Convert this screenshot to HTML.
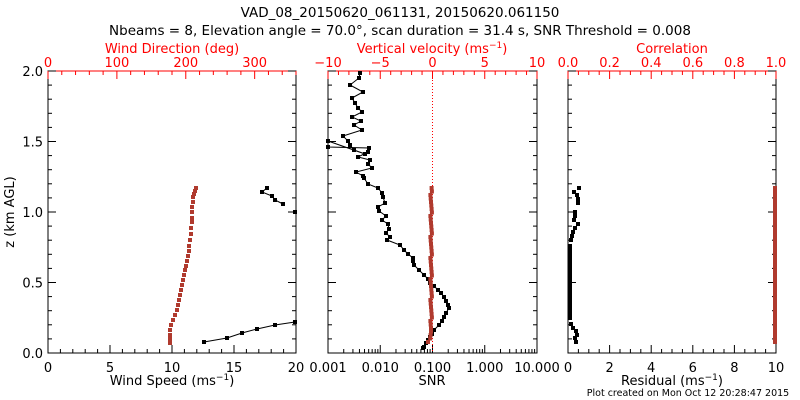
<!DOCTYPE html>
<html><head><meta charset="utf-8"><style>
html,body{margin:0;padding:0;background:#fff;}
svg{display:block;font-family:"DejaVu Sans","Liberation Sans",sans-serif;}
</style></head><body>
<svg id="s" width="800" height="400" viewBox="0 0 800 400" xmlns="http://www.w3.org/2000/svg">
<text x="400" y="17" font-size="13.5" text-anchor="middle">VAD_08_20150620_061131, 20150620.061150</text>
<text x="400" y="35" font-size="13.5" text-anchor="middle">Nbeams = 8, Elevation angle = 70.0°, scan duration = 31.4 s, SNR Threshold = 0.008</text>
<g font-size="13" fill="#f00" text-anchor="middle">
<text x="172" y="53">Wind Direction (deg)</text>
<text x="432" y="53">Vertical velocity (ms<tspan dy="-5" font-size="9">−1</tspan><tspan dy="5">)</tspan></text>
<text x="672" y="53">Correlation</text>
</g>
<g font-size="13" fill="#000" text-anchor="middle">
<text x="172" y="385">Wind Speed (ms<tspan dy="-5" font-size="9">−1</tspan><tspan dy="5">)</tspan></text>
<text x="432" y="385">SNR</text>
<text x="672" y="385">Residual (ms<tspan dy="-5" font-size="9">−1</tspan><tspan dy="5">)</tspan></text>
<text x="14" y="212" transform="rotate(-90 14 212)">z (km AGL)</text>
</g>
<text x="688" y="396" font-size="9.5" text-anchor="middle">Plot created on Mon Oct 12 20:28:47 2015</text>
<g id="g"></g>
</svg>
<script>
var g=document.getElementById('g'),NS="http://www.w3.org/2000/svg",h='';
var T=71,B=353;
function L(x1,y1,x2,y2,c,w,d){h+='<line x1="'+x1+'" y1="'+y1+'" x2="'+x2+'" y2="'+y2+'" stroke="'+c+'" stroke-width="'+(w||1)+'"'+(d?' stroke-dasharray="'+d+'"':'')+'/>';}
function Tx(x,y,s,c,a){h+='<text x="'+x+'" y="'+y+'" font-size="13" fill="'+c+'" text-anchor="'+(a||'middle')+'">'+s+'</text>';}
function frame(x0,x1){h+='<rect x="'+x0+'" y="'+T+'" width="'+(x1-x0)+'" height="'+(B-T)+'" fill="none" stroke="#000"/>';L(x0,T,x1,T,'#f00');}
var P=[[48,296],[328,537],[568,776]];
P.forEach(function(p){frame(p[0],p[1]);});
// y ticks panel1
for(var i=0;i<=20;i++){var y=B-i*(B-T)/20,len=(i%5==0)?8:4;L(48,y,48+len,y,'#000');L(296,y,296-len,y,'#000');}
['0.0','0.5','1.0','1.5','2.0'].forEach(function(s,i){Tx(43,B-i*(B-T)/4+5,s,'#000','end');});
// panel2 and 3 y ticks
[[328,537],[568,776]].forEach(function(p){for(var i=0;i<=20;i++){var y=B-i*(B-T)/20,len=(i%5==0)?8:4;L(p[0],y,p[0]+len,y,'#000');L(p[1],y,p[1]-len,y,'#000');}});
// panel1 bottom: 0..20
for(var i=0;i<=20;i++){var x=48+i*(248/20),len=(i%5==0)?8:4;L(x,B,x,B-len,'#000');}
[0,5,10,15,20].forEach(function(v,i){Tx(48+v*12.4,372,v,'#000');});
// panel1 top: direction 0..360
for(var v=0;v<=360;v+=20){var x=48+v*248/360,len=(v%100==0)?8:4;L(x,T,x,T+len,'#f00');}
[0,100,200,300].forEach(function(v){Tx(48+v*248/360,67,v,'#f00');});
// panel2 bottom log
var dx=(537-328)/4;
for(var d=0;d<4;d++){for(var k=1;k<=9;k++){var x=328+dx*(d+Math.log10(k));L(x,B,x,B-(k==1?8:4),'#000');}}
L(537,B,537,B-8,'#000');
['0.001','0.010','0.100','1.000','10.000'].forEach(function(s,i){Tx(328+i*dx,372,s,'#000');});
// panel2 top -10..10
for(var v=-10;v<=10;v++){var x=328+(v+10)*(209/20),len=(v%5==0)?8:4;L(x,T,x,T+len,'#f00');}
[['−10',-10],['−5',-5],['0',0],['5',5],['10',10]].forEach(function(a){Tx(328+(a[1]+10)*209/20,67,a[0],'#f00');});
L(432.5,T,432.5,B,'#f00',1,'1,2');
// panel3 bottom 0..10
for(var i=0;i<=20;i++){var x=568+i*208/20,len=(i%4==0)?8:4;L(x,B,x,B-len,'#000');}
[0,2,4,6,8,10].forEach(function(v){Tx(568+v*20.8,372,v,'#000');});
for(var i=0;i<=20;i++){var x=568+i*208/20,len=(i%4==0)?8:4;L(x,T,x,T+len,'#f00');}
['0.0','0.2','0.4','0.6','0.8','1.0'].forEach(function(s,i){Tx(568+i*41.6,67,s,'#f00');});
function series(pts,c,line){var s=pts.map(function(p){return p[0]+','+p[1];}).join(' ');
 if(line)h+='<polyline points="'+s+'" fill="none" stroke="'+c+'" stroke-width="1"/>';
 pts.forEach(function(p){h+='<rect x="'+(p[0]-2)+'" y="'+(p[1]-2)+'" width="4" height="4" fill="'+c+'"/>';});}
var BR='#b03a2e';
// panel1 wind speed
series([[204,342],[227,338],[242,333],[257,329],[275,325],[295,322]],'#000',true);
L(295,322,296,321,'#000');
series([[267,188],[262,192],[272,196],[275,200],[283,204]],'#000',true);
series([[295,212]],'#000',false);
// panel1 direction
var dir=[[196,188],[195,191],[194,194],[193,197],[193,202],[192,207],[192,212],[192,218],[192,222],[191,228],[191,234],[190,240],[189,246],[189,251],[188,256],[187,261],[186,266],[185,270],[184,275],[183,280],[182,285],[181,290],[180,295],[179,300],[178,305],[177,310],[175,315],[173,320],[171,325],[170,330],[170,335],[170,339],[170,343]];
series(dir,BR,false);
// panel2 SNR
var snr=[[360,73],[359,78],[350,85],[363,92],[352,98],[355,103],[358,108],[362,112],[352,117],[361,121],[354,125],[362,130],[343,136],[348,141],[350,145],[354,150],[365,154],[328,141],[328,147],[369,148],[368,152],[358,157],[370,160],[368,164],[372,168],[356,172],[363,176],[364,178],[368,184],[378,188],[382,193],[383,197],[385,203],[378,207],[379,211],[386,216],[382,220],[388,224],[389,229],[386,233],[390,237],[387,240],[400,245],[404,250],[408,254],[413,258],[413,261],[414,265],[419,270],[424,275],[428,279],[430,283],[434,286],[438,290],[441,293],[444,297],[446,301],[448,305],[449,308],[446,313],[444,317],[442,321],[439,325],[434,330],[432,334],[430,337],[428,340],[426,343],[424,347],[423,348]];
series(snr,'#000',true);
var vv=[];for(var y=188;y<=345;y+=3.5){var x=431+(y>330?-(y-330)/5:0)+((y*7)%3-1)*0.6;vv.push([x.toFixed(1),y.toFixed(1)]);}
series(vv,BR,false);
// panel3 residual
var res=[[579,188],[574,192],[577,195],[578,199],[578,203],[575,212],[575,216],[574,220],[578,224],[575,228],[573,232],[572,236],[571,240],[570,246]];
for(var y=250;y<=320;y+=4)res.push([570,y]);
res=res.concat([[571,324],[573,328],[576,331],[577,335],[575,338],[576,342]]);
series(res,'#000',false);
var cc=[];for(var y=188;y<=345;y+=3.5)cc.push([775,y.toFixed(1)]);
series(cc,BR,false);
g.innerHTML=h;
</script>
</body></html>
